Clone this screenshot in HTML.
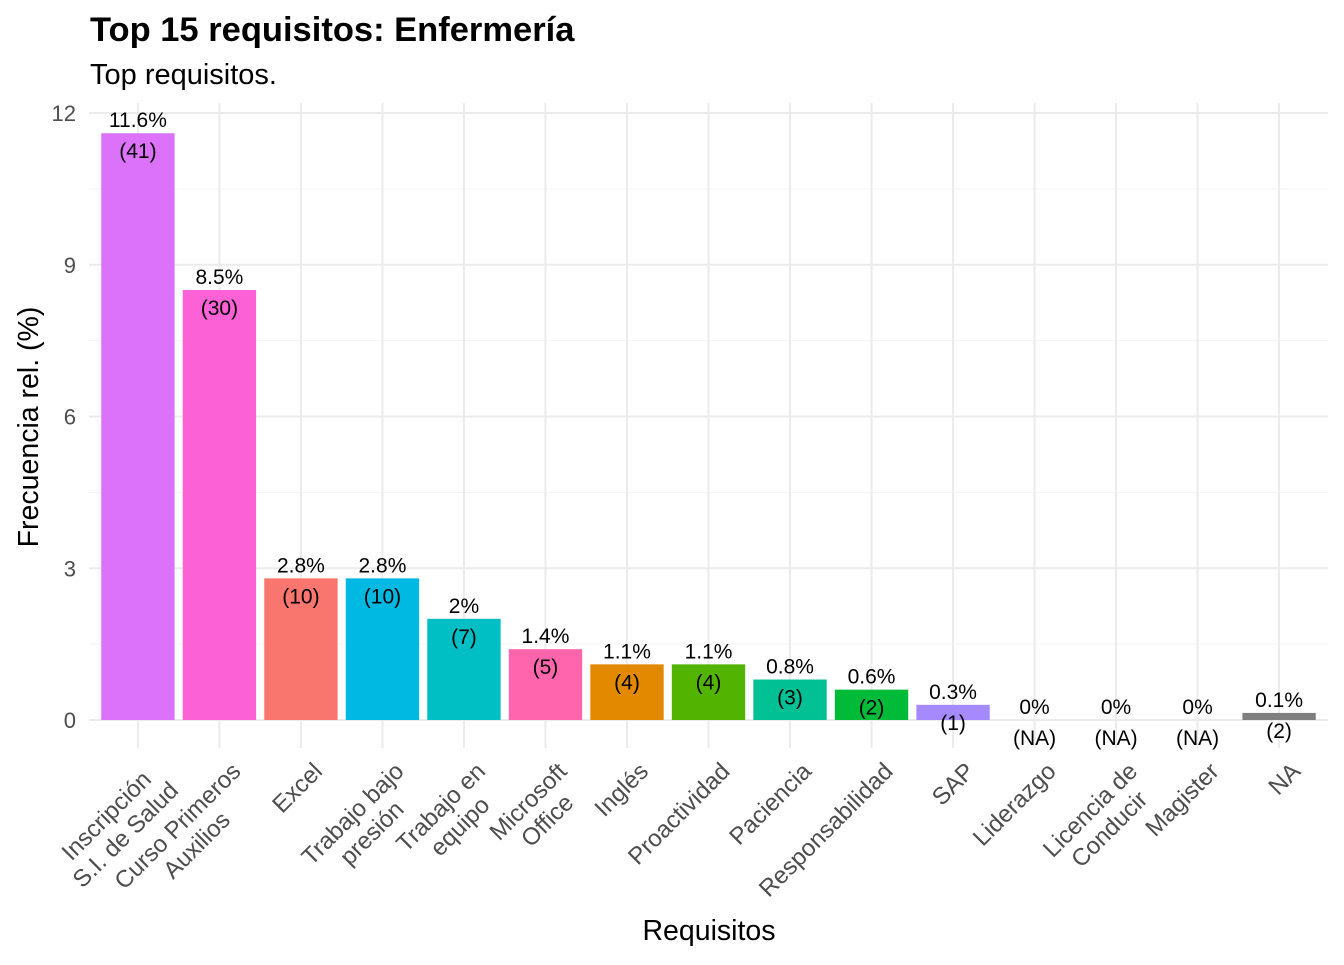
<!DOCTYPE html>
<html><head><meta charset="utf-8"><style>
body{margin:0;background:#fff;}
svg text{font-family:"Liberation Sans",Arial,sans-serif;}
</style></head><body>
<svg id="chart" width="1344" height="960" xmlns="http://www.w3.org/2000/svg">
<rect width="1344" height="960" fill="#fff"/>
<text x="90" y="41" font-size="34.5" font-weight="bold" fill="#000">Top 15 requisitos: Enfermería</text>
<text x="90" y="84" font-size="29" fill="#000">Top requisitos.</text>
<g id="grid"></g><g id="bars"></g><g id="labels"></g><g id="yticks"></g><g id="xticks"></g>
<text transform="translate(38,427) rotate(-90)" text-anchor="middle" font-size="28.5" fill="#000">Frecuencia rel. (%)</text>
<text x="709" y="940" text-anchor="middle" font-size="28.5" fill="#000">Requisitos</text>
</svg>
<script>
const categories=[["Inscripción","S.I. de Salud"],["Curso Primeros","Auxilios"],["Excel"],["Trabajo bajo","presión"],["Trabajo en","equipo"],["Microsoft","Office"],["Inglés"],["Proactividad"],["Paciencia"],["Responsabilidad"],["SAP"],["Liderazgo"],["Licencia de","Conducir"],["Magister"],["NA"]];
const values=[11.6,8.5,2.8,2.8,2.0,1.4,1.1,1.1,0.8,0.6,0.3,0,0,0,0.14];
const pctLabels=["11.6%","8.5%","2.8%","2.8%","2%","1.4%","1.1%","1.1%","0.8%","0.6%","0.3%","0%","0%","0%","0.1%"];
const countLabels=["(41)","(30)","(10)","(10)","(7)","(5)","(4)","(4)","(3)","(2)","(1)","(NA)","(NA)","(NA)","(2)"];
const colors=["#DC71FA","#FC61D5","#F8766D","#00B9E3","#00BFC4","#FF65AC","#E38900","#53B400","#00C094","#00BA38","#A58AFF","#999","#999","#999","#7F7F7F"];
const yTicks=[0,3,6,9,12];
const NS="http://www.w3.org/2000/svg";
const x0=89,x1=1328,y0=720,yTop=113;
const step=(x1-x0)/(categories.length+0.2);
const xs=i=>x0+step*(0.6+i);
const ys=v=>y0-(v/12)*(y0-yTop);
function mk(t,a,p){const e=document.createElementNS(NS,t);for(const k in a)e.setAttribute(k,a[k]);p.appendChild(e);return e;}
const grid=document.getElementById('grid');
for(let v=1.5;v<12.5;v+=3){const l=mk('line',{x1:x0,x2:x1,y1:ys(v),y2:ys(v),stroke:'#F3F3F3','stroke-width':1},grid);

}
const yt=document.getElementById('yticks');
yTicks.forEach(v=>{const l=mk('line',{x1:x0,x2:x1,y1:ys(v),y2:ys(v),stroke:'#EBEBEB','stroke-width':2},grid);


const t=mk('text',{x:76,y:ys(v)+8,'text-anchor':'end','font-size':22,fill:'#4D4D4D'},yt);t.textContent=v;

});
categories.forEach((c,i)=>{const l=mk('line',{x1:xs(i),x2:xs(i),y1:yTop-10,y2:748,stroke:'#EBEBEB','stroke-width':2},grid);

});
const bars=document.getElementById('bars'),labs=document.getElementById('labels'),xt=document.getElementById('xticks');
const bw=step*0.9;
values.forEach((v,i)=>{
 const top=ys(v);
 if(v>0){const r=mk('rect',{x:xs(i)-bw/2,y:top,width:bw,height:y0-top,fill:colors[i]},bars);
 
 }
 const p=mk('text',{x:xs(i),y:top-6,'text-anchor':'middle','font-size':21,fill:'#000'},labs);p.textContent=pctLabels[i];
 
 
 const q=mk('text',{x:xs(i),y:top+25,'text-anchor':'middle','font-size':21,fill:'#000'},labs);q.textContent=countLabels[i];
 
 
});
categories.forEach((c,i)=>{
 const g=mk('g',{transform:`translate(${xs(i)+10},760) rotate(-45)`},xt);
 
 
 const ts=c.map((line,j)=>{const t=mk('text',{x:0,y:18+j*27,'text-anchor':'middle','font-size':24,fill:'#4D4D4D'},g);t.textContent=line;return t;});
 const w=Math.max(...ts.map(t=>t.getComputedTextLength()));
 ts.forEach(t=>t.setAttribute('x',-w/2));
});
</script>
</body></html>
